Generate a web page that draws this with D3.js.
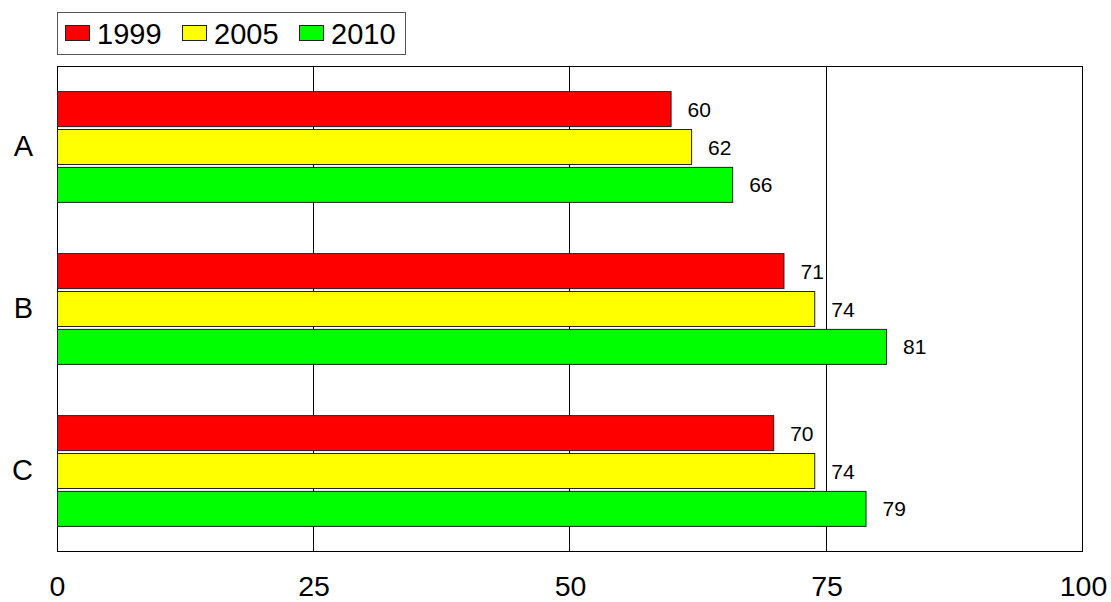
<!DOCTYPE html>
<html><head><meta charset="utf-8">
<script src="https://cdn.jsdelivr.net/npm/d3@7"></script>
<style>body{margin:0;background:#fff}svg{display:block;font-family:"Liberation Sans",Arial,sans-serif}</style>
</head><body><svg id="c" width="1111" height="602"></svg>
<script>
const categories = ["A","B","C"];
const seriesNames = ["1999","2005","2010"];
const seriesColors = ["#ff0000","#ffff00","#00ff00"];
const values1999 = [60,71,70];
const values2005 = [62,74,74];
const values2010 = [66,81,79];
const xTicks = [0,25,50,75,100];

const seriesValues = [values1999, values2005, values2010];
const svg = d3.select("#c");
const L=57, R=1083, T=66, B=552;
const x = d3.scaleLinear().domain([0,100]).range([L,R]);
const y = d3.scaleBand().domain(categories).range([T,B]).paddingInner(0.31).paddingOuter(0.155);
const ys = d3.scaleBand().domain(seriesNames).range([0,y.bandwidth()]).paddingInner(0.05);

// frame
svg.append("rect").attr("x",L+0.5).attr("y",T+0.5).attr("width",R-L-1).attr("height",B-T-1)
  .attr("fill","#fff").attr("stroke","#000").attr("stroke-width",1);
// grid
svg.append("g").selectAll("line").data(xTicks.filter(t=>t>0&&t<100)).join("line")
  .attr("x1",d=>Math.round(x(d))-0.5).attr("x2",d=>Math.round(x(d))-0.5)
  .attr("y1",T).attr("y2",B).attr("stroke","#000").attr("stroke-width",1);

// x axis labels
const xa = svg.append("g").attr("transform",`translate(0,${B})`)
  .call(d3.axisBottom(x).tickValues(xTicks).tickSize(0).tickPadding(24).tickFormat(d3.format("d")));
xa.select(".domain").remove();
xa.selectAll("text").attr("font-size",28.5).attr("fill","#000").attr("font-family","Liberation Sans, Arial, sans-serif");

// y axis labels
const ya = svg.append("g").attr("transform",`translate(${L},0)`)
  .call(d3.axisLeft(y).tickSize(0).tickPadding(24));
ya.select(".domain").remove();
ya.selectAll("text").attr("font-size",29).attr("fill","#000").attr("font-family","Liberation Sans, Arial, sans-serif");

// bars
const data = [];
categories.forEach((c,i)=>seriesNames.forEach((s,j)=>data.push({c,s,j,v:seriesValues[j][i]})));
const g = svg.append("g");
g.selectAll("rect").data(data).join("rect")
  .attr("x",x(0)+0.5).attr("y",d=>y(d.c)+ys(d.s)+0.5)
  .attr("width",d=>x(d.v)-x(0)-2).attr("height",ys.bandwidth()-1)
  .attr("fill",d=>seriesColors[d.j]).attr("stroke","#222").attr("stroke-width",1);
g.selectAll("text").data(data).join("text")
  .attr("x",d=>x(d.v)+15).attr("y",d=>y(d.c)+ys(d.s)+ys.bandwidth()/2)
  .attr("dy","0.36em").attr("font-size",21).attr("fill","#000").text(d=>d.v);

// legend
const lg = svg.append("g");
lg.append("rect").attr("x",57.5).attr("y",12.5).attr("width",348).attr("height",42)
  .attr("fill","#fff").attr("stroke","#555").attr("stroke-width",1);
const lx = [65,182,299];
seriesNames.forEach((s,j)=>{
  lg.append("rect").attr("x",lx[j]+0.5).attr("y",25.5).attr("width",24).attr("height",15)
    .attr("fill",seriesColors[j]).attr("stroke","#222");
  lg.append("text").attr("x",lx[j]+32).attr("y",34).attr("dy","0.36em")
    .attr("font-size",29).attr("fill","#000").text(s);
});
</script></body></html>
